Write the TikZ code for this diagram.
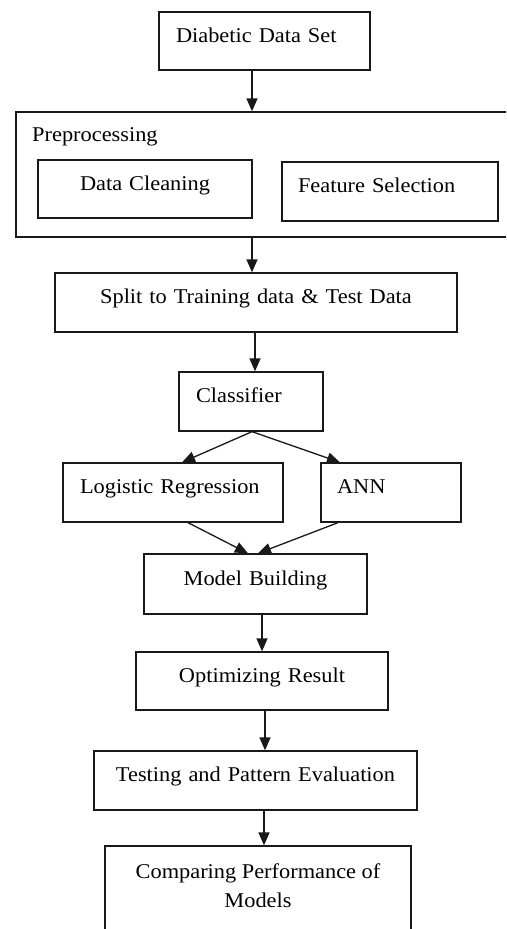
\documentclass[tikz,border=0pt]{standalone}
\usepackage{fontspec}
\setmainfont{Liberation Serif}[FakeStretch=1.065]
\usetikzlibrary{arrows.meta}
\begin{document}
\begin{tikzpicture}[x=1pt,y=-1pt,
  box/.style={draw=black!90, line width=1.3pt, rectangle, inner ysep=0pt,
    text height=14pt, text depth=12pt, font=\fontsize{21pt}{25pt}\selectfont},
  lbox/.style={box, align=left},
  cbox/.style={box, align=center},
  arr/.style={draw=black!90, line width=1.3pt, -{Triangle[width=11pt,length=13pt]}}]
\useasboundingbox (0,0) rectangle (506,929);
\clip (0,0) rectangle (506,929);
% boxes
\node[lbox, inner xsep=17pt, text width=177pt, minimum height=58pt] (dds) at (264.5,41) {Diabetic Data Set};
\node[draw=black!90, line width=1.3pt, rectangle, minimum width=499pt, minimum height=125pt, inner sep=0pt] (pre) at (265.5,174.5) {};
\node[anchor=base west, inner sep=0pt, font=\fontsize{21pt}{25pt}\selectfont] (pretext) at (32,141) {Preprocessing};
\node[cbox, inner xsep=0pt, text width=214pt, minimum height=58pt] (clean) at (145,189) {Data Cleaning};
\node[lbox, inner xsep=16pt, text width=184pt, minimum height=59pt] (feat) at (390,191.5) {Feature Selection};
\node[cbox, inner xsep=0pt, text width=402pt, minimum height=59pt] (split) at (256,302.5) {Split to Training data \& Test Data};
\node[lbox, inner xsep=17pt, text width=110pt, minimum height=59pt] (cls) at (251,401.5) {Classifier};
\node[lbox, inner xsep=17pt, text width=186pt, minimum height=59pt] (lr) at (173,492.5) {Logistic Regression};
\node[lbox, inner xsep=16pt, text width=108pt, minimum height=59pt] (ann) at (391,492.5) {ANN};
\node[cbox, inner xsep=0pt, text width=223pt, minimum height=60pt] (mb) at (255.5,584) {Model Building};
\node[cbox, inner xsep=0pt, text width=252pt, minimum height=58pt] (opt) at (262,681) {Optimizing Result};
\node[cbox, inner xsep=0pt, text width=323pt, minimum height=59pt] (test) at (255.5,780.5) {Testing and Pattern Evaluation};
\node[draw=black!90, line width=1.3pt, rectangle, minimum width=306pt, minimum height=104pt, inner sep=0pt] (cmp) at (258,898) {};
\node[anchor=north, inner sep=0pt, align=center, font=\fontsize{21pt}{29pt}\selectfont] (cmptext) at (258,864) {Comparing Performance of\\Models};
% x positions of vertical connectors
\coordinate (xa) at (252,0);
\coordinate (xb) at (255,0);
\coordinate (xc) at (262,0);
\coordinate (xd) at (265,0);
\coordinate (xe) at (264,0);
\coordinate (xl) at (182,0);
\coordinate (xr) at (340,0);
\coordinate (xlb) at (188,0);
\coordinate (xrb) at (338,0);
\coordinate (xm1) at (248,0);
\coordinate (xm2) at (258,0);
% connectors
\draw[arr] (dds.south -| xa) -- (pre.north -| xa);
\draw[arr] (pre.south -| xa) -- (split.north -| xa);
\draw[arr] (split.south -| xb) -- (cls.north -| xb);
\draw[arr] (cls.south -| xa) -- (lr.north -| xl);
\draw[arr] (cls.south -| xa) -- (ann.north -| xr);
\draw[arr] (lr.south -| xlb) -- (mb.north -| xm1);
\draw[arr] (ann.south -| xrb) -- (mb.north -| xm2);
\draw[arr] (mb.south -| xc) -- (opt.north -| xc);
\draw[arr] (opt.south -| xd) -- (test.north -| xd);
\draw[arr] (test.south -| xe) -- (cmp.north -| xe);
\end{tikzpicture}
\end{document}
